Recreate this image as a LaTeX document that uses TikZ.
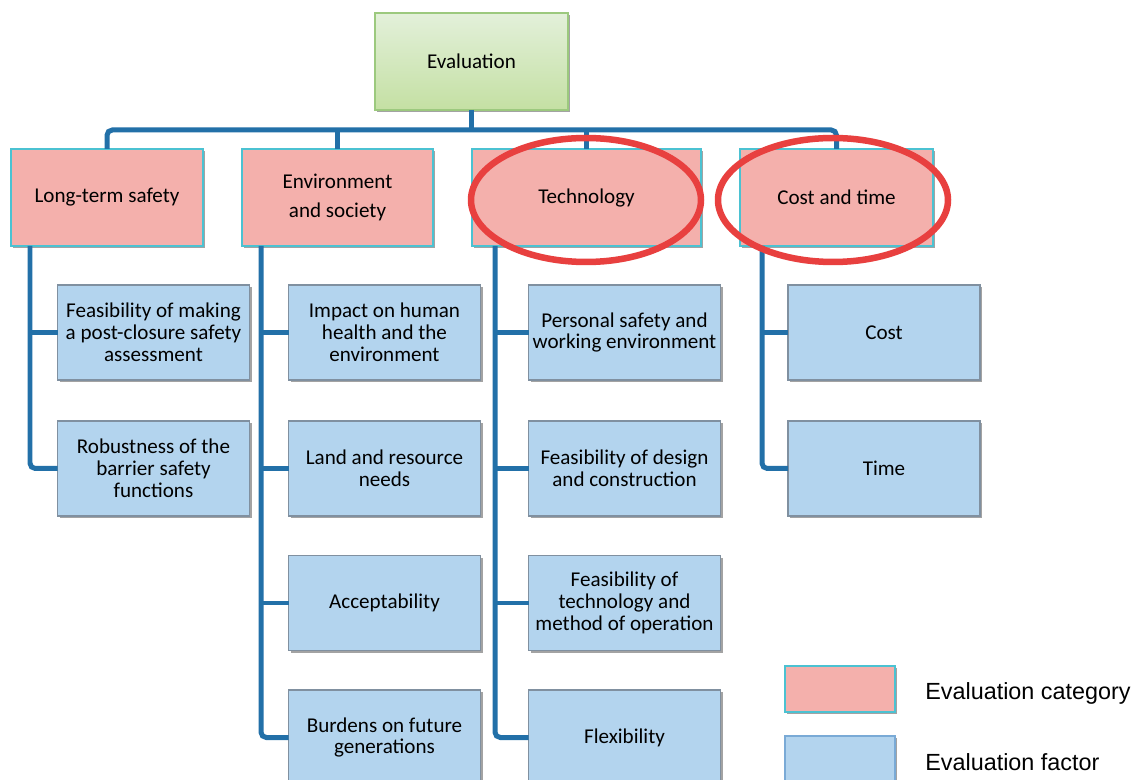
\documentclass[tikz,border=0pt]{standalone}
\usepackage{fontspec}
\setmainfont{Carlito}
\newfontfamily\legendfont{Liberation Sans}
\usetikzlibrary{calc,shadows}
\definecolor{catfill}{HTML}{F4B0AC}
\definecolor{catborder}{HTML}{4BC2D2}
\definecolor{factfill}{HTML}{B3D4EE}
\definecolor{factborder}{HTML}{8090A0}
\definecolor{legfactborder}{HTML}{7AAAD6}
\definecolor{linec}{HTML}{2270A8}
\definecolor{redc}{HTML}{E8403F}
\definecolor{evtop}{HTML}{E3F0DA}
\definecolor{evbot}{HTML}{C4E0A3}
\definecolor{evborder}{HTML}{9CC97E}
\tikzset{
  sz/.style 2 args={minimum width=#1*0.02cm, minimum height=#2*0.02cm},
  boxbase/.style={rectangle, inner sep=0pt, outer sep=0pt, align=center,
    line width=0.8pt, font=\fontsize{12}{12.5}\selectfont,
    drop shadow={shadow xshift=1.3pt, shadow yshift=-1.3pt, fill=black!45, opacity=0.8}},
  evalbox/.style={boxbase, draw=evborder, top color=evtop, bottom color=evbot, sz={193}{97}},
  catbox/.style={boxbase, draw=catborder, fill=catfill},
  factbox/.style={boxbase, draw=factborder, fill=factfill, sz={192}{95}},
  conn/.style={draw=linec, line width=0.1cm, rounded corners=3pt},
  ring/.style={draw=redc, line width=0.13cm},
  legtext/.style={anchor=west, inner sep=0pt, font=\legendfont\fontsize{13.3}{15}\selectfont}
}
\begin{document}
\begin{tikzpicture}[x=0.02cm,y=-0.02cm]
\clip (0,0) rectangle (1140,780);
\fill[white] (0,0) rectangle (1140,780);

% top node
\node[evalbox] (ev) at (471.5,61.5) {Evaluation};

% categories
\node[catbox, sz={192}{97}] (lts) at (107,197.5) {Long-term safety};
\node[catbox, sz={191}{97}] (es) at (337.5,197.5) {Environment\\[4.5pt]and society};
\node[catbox, sz={229}{97}] (te) at (586.5,197.5) {Technology};
\node[catbox, sz={193}{97}] (ct) at (836.5,197.5) {Cost and time};

% factors column 1
\node[factbox] (f11) at (153.5,332.5) {Feasibility of making\\a post-closure safety\\assessment};
\node[factbox] (f12) at (153.5,468.5) {Robustness of the\\barrier safety\\functions};
% column 2
\node[factbox] (f21) at (384.5,332.5) {Impact on human\\health and the\\environment};
\node[factbox] (f22) at (384.5,468.5) {Land and resource\\needs};
\node[factbox] (f23) at (384.5,603) {Acceptability};
\node[factbox] (f24) at (384.5,737.5) {Burdens on future\\generations};
% column 3
\node[factbox] (f31) at (624.5,332.5) {Personal safety and\\working environment};
\node[factbox] (f32) at (624.5,468.5) {Feasibility of design\\and construction};
\node[factbox] (f33) at (624.5,603) {Feasibility of\\technology and\\method of operation};
\node[factbox] (f34) at (624.5,737.5) {Flexibility};
% column 4
\node[factbox] (f41) at (884,332.5) {Cost};
\node[factbox] (f42) at (884,468.5) {Time};

% bus connectors
\draw[conn] (ev.south) -- ++(0,19.5);
\draw[conn] (lts.north) -- ++(0,-19) -| (ct.north);
\draw[conn] (es.north) -- ++(0,-19);
\draw[conn] (te.north) -- ++(0,-19);

% vertical spines
\coordinate (v1) at ($(lts.south west)+(19,0)$);
\coordinate (v2) at ($(es.south west)+(19,0)$);
\coordinate (v3) at ($(te.south west)+(23,0)$);
\coordinate (v4) at ($(ct.south west)+(22,0)$);

\draw[conn] (v1) |- (f12.west);
\draw[conn] (f11.west) -- (f11.west -| v1);

\draw[conn] (v2) |- (f24.west);
\draw[conn] (f21.west) -- (f21.west -| v2);
\draw[conn] (f22.west) -- (f22.west -| v2);
\draw[conn] (f23.west) -- (f23.west -| v2);

\draw[conn] (v3) |- (f34.west);
\draw[conn] (f31.west) -- (f31.west -| v3);
\draw[conn] (f32.west) -- (f32.west -| v3);
\draw[conn] (f33.west) -- (f33.west -| v3);

\draw[conn] (v4) |- (f42.west);
\draw[conn] (f41.west) -- (f41.west -| v4);

% red rings
\draw[ring] ($(te.center)+(-0.5,2.5)$) ellipse [x radius=115, y radius=62];
\draw[ring] ($(ct.center)+(-3.5,2.5)$) ellipse [x radius=115, y radius=62];

% legend
\node[catbox, line width=1.1pt, sz={110}{46}] (lc) at (840,689) {};
\node[boxbase, draw=legfactborder, fill=factfill, line width=1.1pt, sz={110}{46}] (lf) at (840,759) {};
\node[legtext] (lct) at (925,693) {Evaluation category};
\node[legtext] (lft) at (925,762) {Evaluation factor};
\end{tikzpicture}
\end{document}
